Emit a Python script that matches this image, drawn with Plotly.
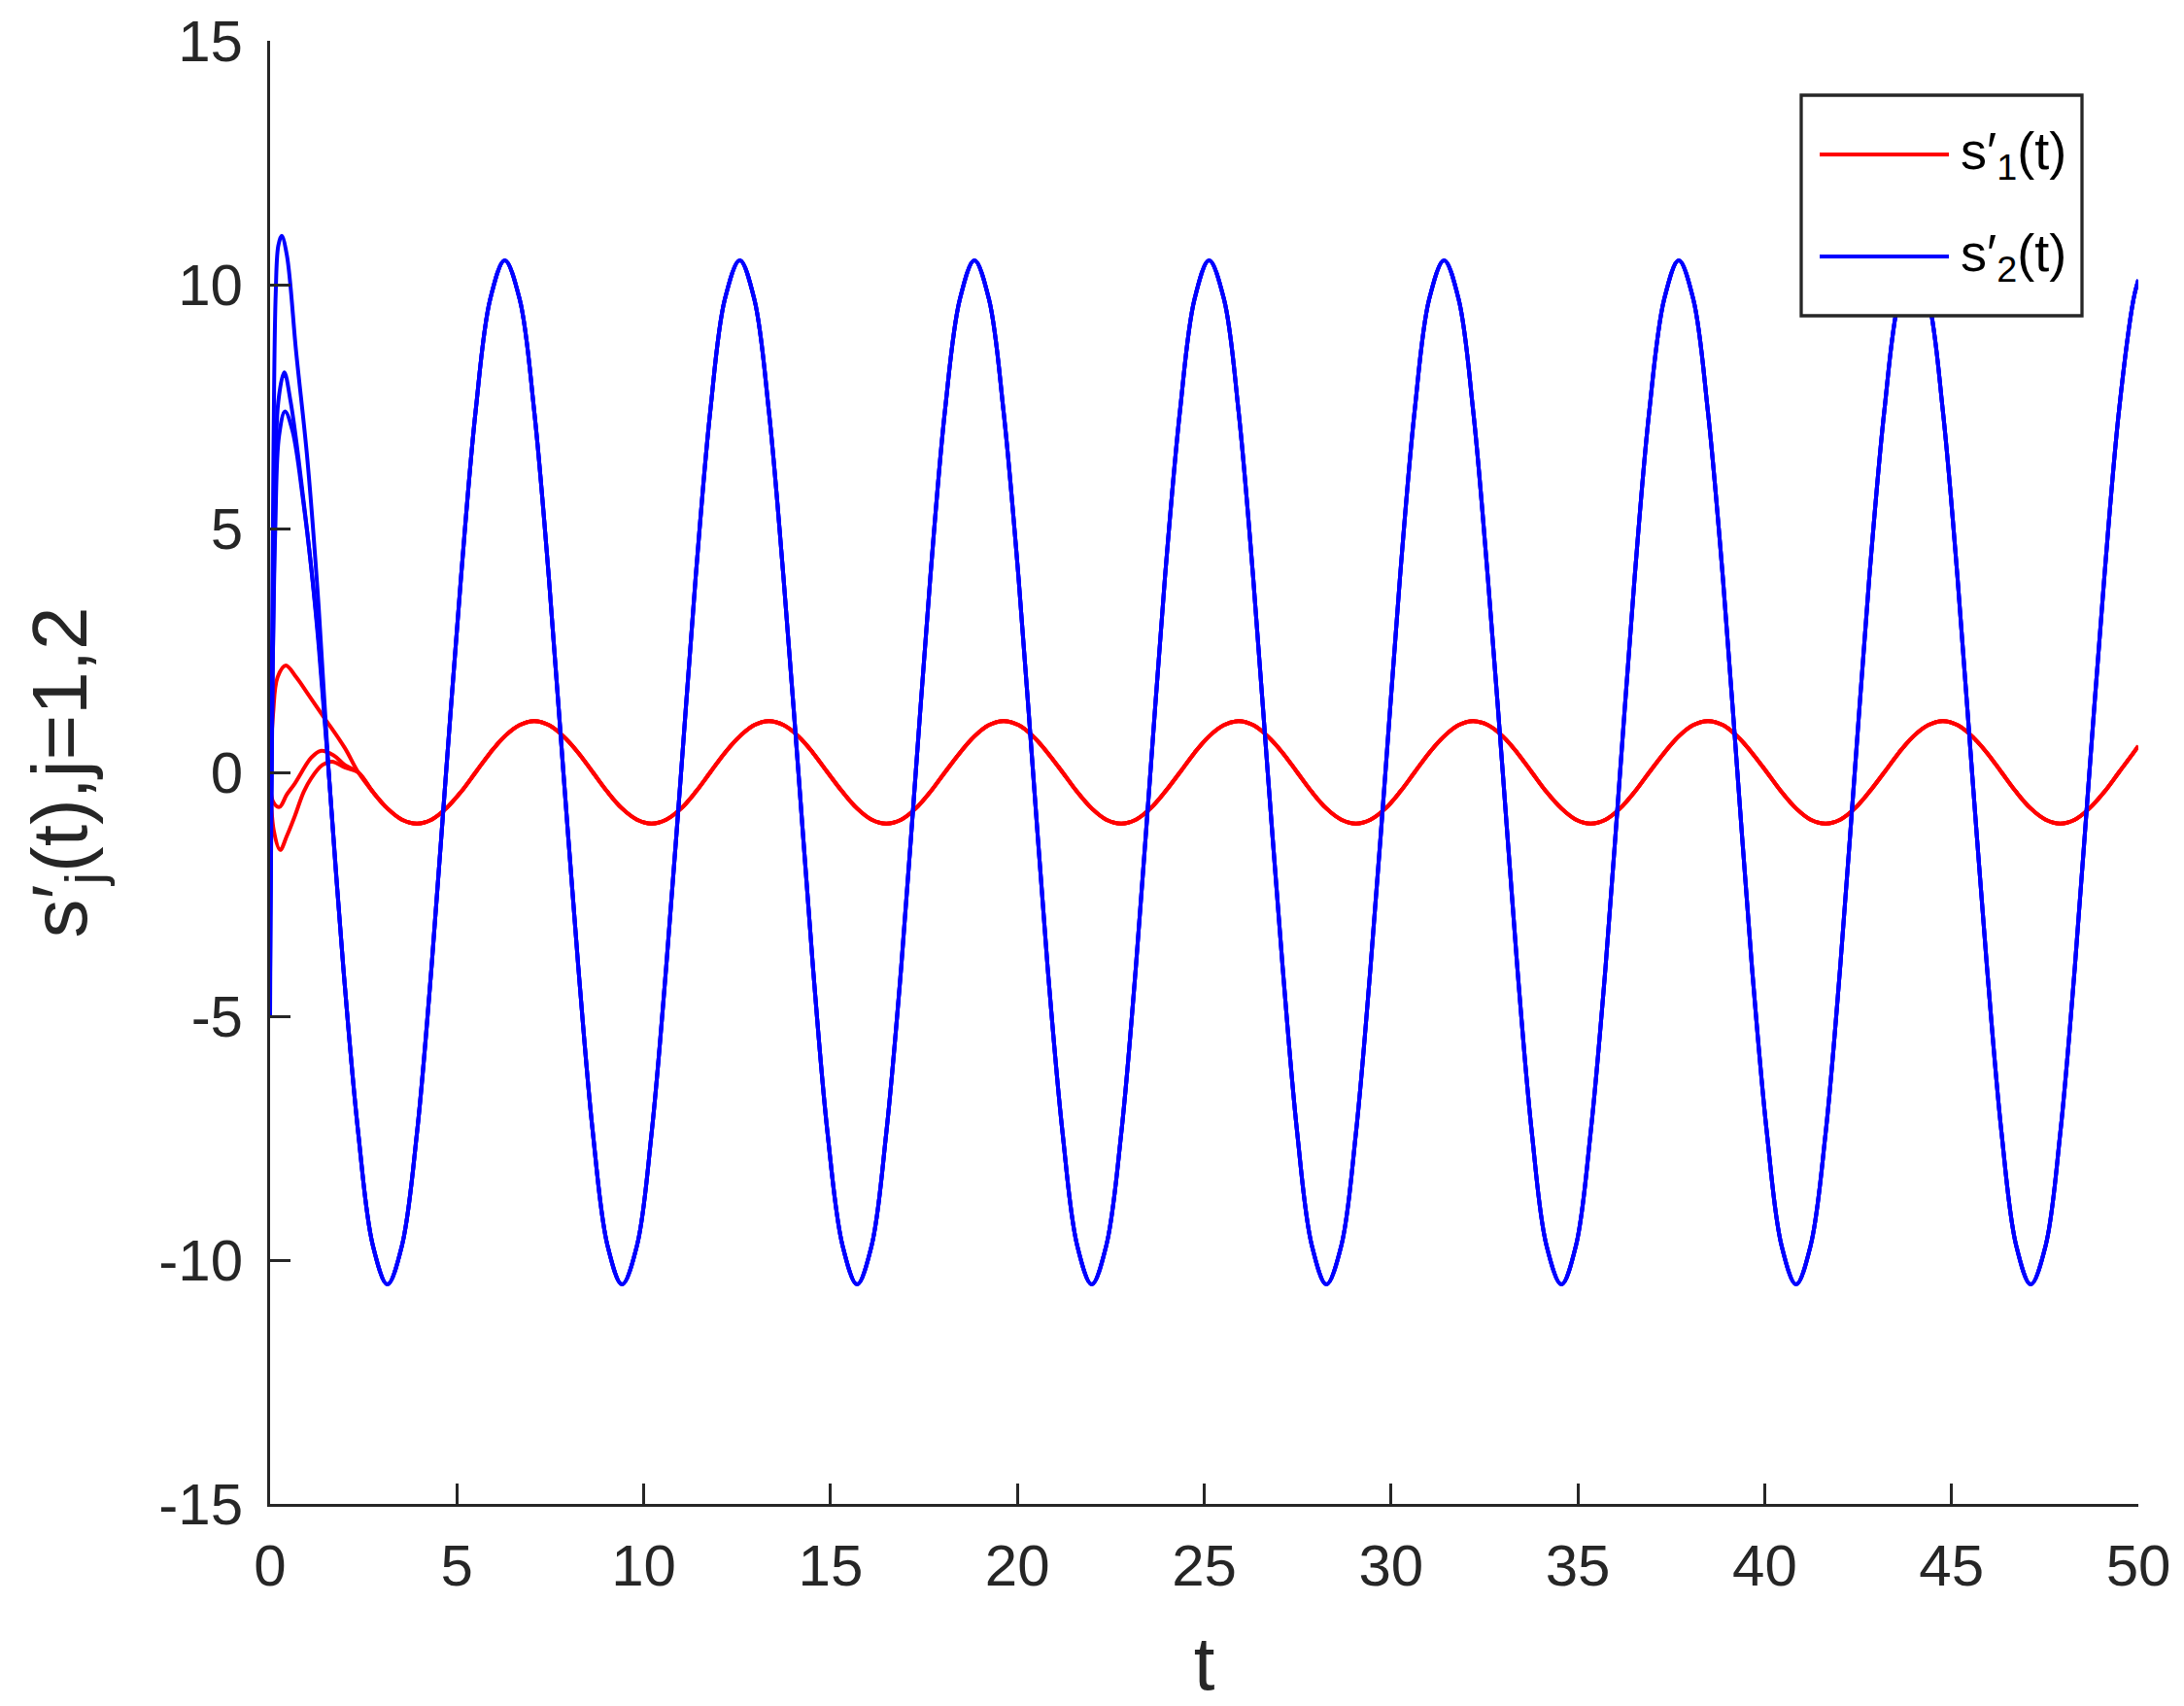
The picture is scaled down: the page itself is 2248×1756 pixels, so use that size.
import plotly.graph_objects as go

# ---------------- data ----------------
# Transient heads (three initial conditions) for s'_1 (red)
R1_T = [0.0, 0.08, 0.2, 0.42, 0.7, 1.0, 1.44, 2.0]
R1_V = [0.0, 1.2, 1.95, 2.19, 1.95, 1.62, 1.13, 0.5]
R2_T = [0.0, 0.08, 0.25, 0.45, 0.66, 1.1, 1.35, 1.7, 2.0]
R2_V = [0.0, -0.6, -0.71, -0.45, -0.23, 0.3, 0.44, 0.35, 0.15]
R3_T = [0.0, 0.1, 0.27, 0.45, 0.66, 0.9, 1.1, 1.4, 1.66, 2.0]
R3_V = [0.0, -1.2, -1.59, -1.3, -0.9, -0.4, -0.12, 0.15, 0.22, 0.1]

# Transient heads for s'_2 (blue)
B1_T = [0.0, 0.04, 0.09, 0.15, 0.22, 0.31, 0.45, 0.7, 1.0, 1.3]
B1_V = [-5.0, 1.0, 6.5, 9.8, 10.8, 11.0, 10.6, 8.6, 6.4, 3.4]
B2_T = [0.0, 0.05, 0.12, 0.22, 0.38, 0.55, 0.75, 1.0, 1.3]
B2_V = [-4.1, 0.5, 5.0, 7.6, 8.2, 7.6, 6.5, 4.9, 2.7]
B3_T = [0.0, 0.06, 0.14, 0.24, 0.40, 0.6, 0.88, 1.1, 1.3]
B3_V = [-3.0, 1.5, 5.0, 6.9, 7.4, 7.0, 5.6, 4.2, 2.6]

# Common steady-state tail (all initial conditions coincide)
T_TAIL = [1.57, 1.96,
          2.36, 2.75, 3.14, 3.53, 3.93, 4.32, 4.71, 5.11, 5.50, 5.89,
          6.28, 6.68, 7.07, 7.46, 7.85, 8.25, 8.64, 9.03, 9.42, 9.82,
          10.21, 10.60, 11.00, 11.39, 11.78, 12.17, 12.57, 12.96, 13.35, 13.74,
          14.14, 14.53, 14.92, 15.32, 15.71, 16.10, 16.49, 16.89, 17.28, 17.67,
          18.06, 18.46, 18.85, 19.24, 19.63, 20.03, 20.42, 20.81, 21.21, 21.60,
          21.99, 22.38, 22.78, 23.17, 23.56, 23.95, 24.35, 24.74, 25.13, 25.53,
          25.92, 26.31, 26.70, 27.10, 27.49, 27.88, 28.27, 28.67, 29.06, 29.45,
          29.85, 30.24, 30.63, 31.02, 31.42, 31.81, 32.20, 32.59, 32.99, 33.38,
          33.77, 34.16, 34.56, 34.95, 35.34, 35.74, 36.13, 36.52, 36.91, 37.31,
          37.70, 38.09, 38.48, 38.88, 39.27, 39.66, 40.06, 40.45, 40.84, 41.23,
          41.63, 42.02, 42.41, 42.80, 43.20, 43.59, 43.98, 44.38, 44.77, 45.16,
          45.55, 45.95, 46.34, 46.73, 47.12, 47.52, 47.91, 48.30, 48.69, 49.09,
          49.48, 49.87, 50.0]
BLUE_TAIL = [0.0, -4.0,
             -7.4, -9.7, -10.5, -9.7, -7.4, -4.0, 0.0, 4.0, 7.4, 9.7, 10.5, 9.7, 7.4, 4.0, 0.0, -4.0,
             -7.4, -9.7, -10.5, -9.7, -7.4, -4.0, 0.0, 4.0, 7.4, 9.7, 10.5, 9.7, 7.4, 4.0, 0.0, -4.0,
             -7.4, -9.7, -10.5, -9.7, -7.4, -4.0, 0.0, 4.0, 7.4, 9.7, 10.5, 9.7, 7.4, 4.0, 0.0, -4.0,
             -7.4, -9.7, -10.5, -9.7, -7.4, -4.0, 0.0, 4.0, 7.4, 9.7, 10.5, 9.7, 7.4, 4.0, 0.0, -4.0,
             -7.4, -9.7, -10.5, -9.7, -7.4, -4.0, 0.0, 4.0, 7.4, 9.7, 10.5, 9.7, 7.4, 4.0, 0.0, -4.0,
             -7.4, -9.7, -10.5, -9.7, -7.4, -4.0, 0.0, 4.0, 7.4, 9.7, 10.5, 9.7, 7.4, 4.0, 0.0, -4.0,
             -7.4, -9.7, -10.5, -9.7, -7.4, -4.0, 0.0, 4.0, 7.4, 9.7, 10.5, 9.7, 7.4, 4.0, 0.0, -4.0,
             -7.4, -9.7, -10.5, -9.7, -7.4, -4.0, 0.0, 4.0, 7.4, 9.7,
             10.1]
# red tail is aligned with T_TAIL from t = 2.36 on
RED_TAIL = [0.0, -0.40, -0.74, -0.97, -1.05, -0.97, -0.74, -0.40, 0.0, 0.40, 0.74, 0.97, 1.05, 0.97, 0.74, 0.40,
            0.0, -0.40, -0.74, -0.97, -1.05, -0.97, -0.74, -0.40, 0.0, 0.40, 0.74, 0.97, 1.05, 0.97, 0.74, 0.40,
            0.0, -0.40, -0.74, -0.97, -1.05, -0.97, -0.74, -0.40, 0.0, 0.40, 0.74, 0.97, 1.05, 0.97, 0.74, 0.40,
            0.0, -0.40, -0.74, -0.97, -1.05, -0.97, -0.74, -0.40, 0.0, 0.40, 0.74, 0.97, 1.05, 0.97, 0.74, 0.40,
            0.0, -0.40, -0.74, -0.97, -1.05, -0.97, -0.74, -0.40, 0.0, 0.40, 0.74, 0.97, 1.05, 0.97, 0.74, 0.40,
            0.0, -0.40, -0.74, -0.97, -1.05, -0.97, -0.74, -0.40, 0.0, 0.40, 0.74, 0.97, 1.05, 0.97, 0.74, 0.40,
            0.0, -0.40, -0.74, -0.97, -1.05, -0.97, -0.74, -0.40, 0.0, 0.40, 0.74, 0.97, 1.05, 0.97, 0.74, 0.40,
            0.0, -0.40, -0.74, -0.97, -1.05, -0.97, -0.74, -0.40, 0.0, 0.40,
            0.54]

X_TICKS = [0, 5, 10, 15, 20, 25, 30, 35, 40, 45, 50]
Y_TICKS = [-15, -10, -5, 0, 5, 10, 15]
SERIES_NAMES = ["s′<sub>1</sub>(t)", "s′<sub>2</sub>(t)"]

# ---------------- figure ----------------
# the page body adds an 8px margin, so the figure is 8px smaller
W, H = 2240, 1748
OFF = 8
PL, PR, PT, PB = 278 - OFF, 2201 - OFF, 42 - OFF, 1548 - OFF  # plot area in figure pixels
AX = "#262626"
FONT = "Liberation Sans, Arial, Helvetica, sans-serif"
RED, BLUE = "#ff0000", "#0000ff"
LW = 4.0

fig = go.Figure()

RED_T = T_TAIL[2:]
for (tt, vv) in [(R1_T, R1_V), (R2_T, R2_V), (R3_T, R3_V)]:
    fig.add_trace(go.Scatter(x=tt + RED_T, y=vv + RED_TAIL, mode="lines",
                             line=dict(color=RED, width=LW, shape="spline", smoothing=1.0,
                                       simplify=False),
                             name=SERIES_NAMES[0], showlegend=False))
for (tt, vv) in [(B1_T, B1_V), (B2_T, B2_V), (B3_T, B3_V)]:
    fig.add_trace(go.Scatter(x=tt + T_TAIL, y=vv + BLUE_TAIL, mode="lines",
                             line=dict(color=BLUE, width=LW, shape="spline", smoothing=1.0,
                                       simplify=False),
                             name=SERIES_NAMES[1], showlegend=False))


def px_x(p):
    return (p - OFF - PL) / (PR - PL)


def px_y(p):
    return (PB - (p - OFF)) / (PB - PT)


# custom MATLAB-like legend
shapes = [dict(type="rect", xref="paper", yref="paper",
               x0=px_x(1854), x1=px_x(2143), y0=px_y(325), y1=px_y(98),
               line=dict(color=AX, width=3.3), fillcolor="white", layer="above")]
annotations = []
for i, (col, name) in enumerate([(RED, SERIES_NAMES[0]), (BLUE, SERIES_NAMES[1])]):
    yy = [159, 264][i]
    shapes.append(dict(type="line", xref="paper", yref="paper",
                       x0=px_x(1873), x1=px_x(2006), y0=px_y(yy), y1=px_y(yy),
                       line=dict(color=col, width=LW), layer="above"))
    annotations.append(dict(xref="paper", yref="paper", x=px_x(2016), y=px_y(yy),
                            xanchor="left", yanchor="middle", text=name, showarrow=False,
                            font=dict(family=FONT, size=54, color="#000000")))

fig.update_layout(
    width=W, height=H,
    margin=dict(l=PL, r=W - PR, t=PT, b=H - PB, pad=0),
    paper_bgcolor="white", plot_bgcolor="white",
    showlegend=False,
    shapes=shapes, annotations=annotations,
    font=dict(family=FONT, color=AX, size=60),
)
fig.update_xaxes(
    range=[0, 50], tickvals=X_TICKS, ticktext=[str(v) for v in X_TICKS],
    showgrid=False, zeroline=False, showline=True, linecolor=AX, linewidth=3,
    ticks="inside", ticklen=21, tickwidth=3, tickcolor=AX,
    tickfont=dict(family=FONT, size=60, color=AX), ticklabelstandoff=9,
    title=dict(text="t", font=dict(family=FONT, size=78, color=AX), standoff=46),
    automargin=False,
)
fig.update_yaxes(
    range=[-15, 15], tickvals=Y_TICKS, ticktext=[str(v) for v in Y_TICKS],
    showgrid=False, zeroline=False, showline=True, linecolor=AX, linewidth=3,
    ticks="inside", ticklen=21, tickwidth=3, tickcolor=AX,
    tickfont=dict(family=FONT, size=60, color=AX), ticklabelstandoff=13,
    title=dict(text="s′<sub>j</sub>(t),j=1,2", font=dict(family=FONT, size=80, color=AX), standoff=48),
    automargin=False,
)

fig.write_html("out.html")
